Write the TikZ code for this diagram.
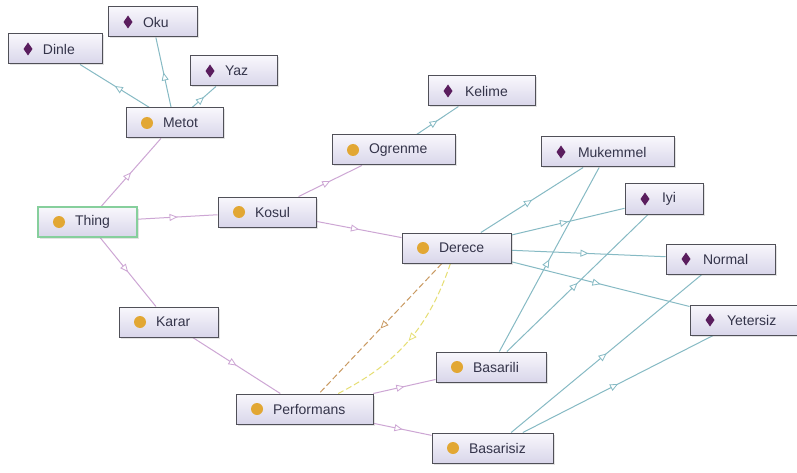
\documentclass[tikz,border=0pt]{standalone}
\usepackage{fontspec}
\setmainfont{Liberation Sans}
\usetikzlibrary{arrows.meta,decorations.markings,shadows,backgrounds}

\definecolor{boxline}{HTML}{505058}
\definecolor{boxtop}{HTML}{F8F7FC}
\definecolor{boxbot}{HTML}{D9D6EA}
\definecolor{thingline}{HTML}{86CF9C}
\definecolor{clsdot}{HTML}{E2A733}
\definecolor{inddot}{HTML}{5A1D5E}
\definecolor{subedge}{HTML}{CDA6D4}
\definecolor{indedge}{HTML}{86BAC4}
\definecolor{propA}{HTML}{C99A62}
\definecolor{propB}{HTML}{E6DE72}
\definecolor{labeltext}{HTML}{34344A}

\tikzset{
  entity/.style={draw=boxline, line width=1pt, top color=boxtop, bottom color=boxbot,
    minimum height=30pt, inner xsep=0pt, inner ysep=0pt, align=left,
    font=\fontsize{14}{16}\selectfont, text=labeltext,
    drop shadow={opacity=0.22, shadow xshift=1.5pt, shadow yshift=-1.5pt}},
  cls/.style={entity, path picture={\fill[clsdot] ([xshift=21pt]path picture bounding box.west) circle (6pt);}},
  ind/.style={entity, path picture={\fill[inddot] ([xshift=20pt]path picture bounding box.west)
      +(0pt,6.5pt) -- +(4.5pt,0pt) -- +(0pt,-6.5pt) -- +(-4.5pt,0pt) -- cycle;}},
  midtip/.style={postaction={decorate, decoration={markings,
      mark=at position 0.5 with {\arrow{Triangle[length=8pt,width=7pt,fill=white,line width=0.8pt]}}}}},
  subof/.style={subedge, line width=1pt, midtip},
  hasind/.style={indedge, line width=1pt, midtip},
  propline/.style={line width=1pt, dashed, dash pattern=on 6pt off 3pt, midtip},
}

\begin{document}
\begin{tikzpicture}[x=1pt, y=-1pt]
  \useasboundingbox (0,0) rectangle (797,473);

  % classes
  \node[cls, draw=thingline, line width=1.3pt, text width=99pt] (Thing) at (87.5,222) {\hspace*{37pt}Thing};
  \node[cls, text width=97pt]  (Metot)      at (174.5,123) {\hspace*{37pt}Metot};
  \node[cls, text width=98pt]  (Kosul)      at (267,212)   {\hspace*{37pt}Kosul};
  \node[cls, text width=99pt]  (Karar)      at (168.5,322) {\hspace*{37pt}Karar};
  \node[cls, text width=123pt] (Ogrenme)    at (393.5,150) {\hspace*{37pt}Ogrenme};
  \node[cls, text width=109pt] (Derece)     at (456.5,248) {\hspace*{37pt}Derece};
  \node[cls, text width=137pt] (Performans) at (304.5,409) {\hspace*{37pt}Performans};
  \node[cls, text width=110pt] (Basarili)   at (491,367)   {\hspace*{37pt}Basarili};
  \node[cls, text width=121pt] (Basarisiz)  at (492.5,448) {\hspace*{37pt}Basarisiz};

  % individuals
  \node[ind, text width=94pt]  (Dinle)    at (55,49)     {\hspace*{35pt}Dinle};
  \node[ind, text width=89pt]  (Oku)      at (152.5,22)  {\hspace*{35pt}Oku};
  \node[ind, text width=87pt]  (Yaz)      at (233.5,71)  {\hspace*{35pt}Yaz};
  \node[ind, text width=107pt] (Kelime)   at (481.5,91)  {\hspace*{37pt}Kelime};
  \node[ind, text width=133pt] (Mukemmel) at (607.5,152) {\hspace*{37pt}Mukemmel};
  \node[ind, text width=78pt]  (Iyi)      at (664,199)   {\hspace*{37pt}Iyi};
  \node[ind, text width=109pt] (Normal)   at (720.5,259) {\hspace*{37pt}Normal};
  \node[ind, text width=107pt] (Yetersiz) at (743.5,320) {\hspace*{37pt}Yetersiz};

  \begin{scope}[on background layer]
    \fill[white] (0,0) rectangle (797,473);

    % subclass links
    \draw[subof] (Thing) -- (Metot);
    \draw[subof] (Thing) -- (Kosul);
    \draw[subof] (Thing) -- (Karar);
    \draw[subof] (Kosul) -- (Ogrenme);
    \draw[subof] (Kosul) -- (Derece);
    \draw[subof] (Karar) -- (Performans);
    \draw[subof] (Performans) -- (Basarili);
    \draw[subof] (Performans) -- (Basarisiz);

    % individual links
    \draw[hasind] (Metot) -- (Dinle);
    \draw[hasind] (Metot) -- (Oku);
    \draw[hasind] (Metot) -- (Yaz);
    \draw[hasind] (Ogrenme) -- (Kelime);
    \draw[hasind] (Derece) -- (Mukemmel);
    \draw[hasind] (Derece) -- (Iyi);
    \draw[hasind] (Derece) -- (Normal);
    \draw[hasind] (Derece) -- (Yetersiz);
    \draw[hasind] (Basarili) -- (Mukemmel);
    \draw[hasind] (Basarili) -- (Iyi);
    \draw[hasind] (Basarisiz) -- (Normal);
    \draw[hasind] (Basarisiz) -- (Yetersiz);

    % object properties
    \draw[propline, propA] (Derece) -- (Performans);
    \draw[propline, propB] (Derece) to[bend left=22] (Performans);
  \end{scope}
\end{tikzpicture}
\end{document}
